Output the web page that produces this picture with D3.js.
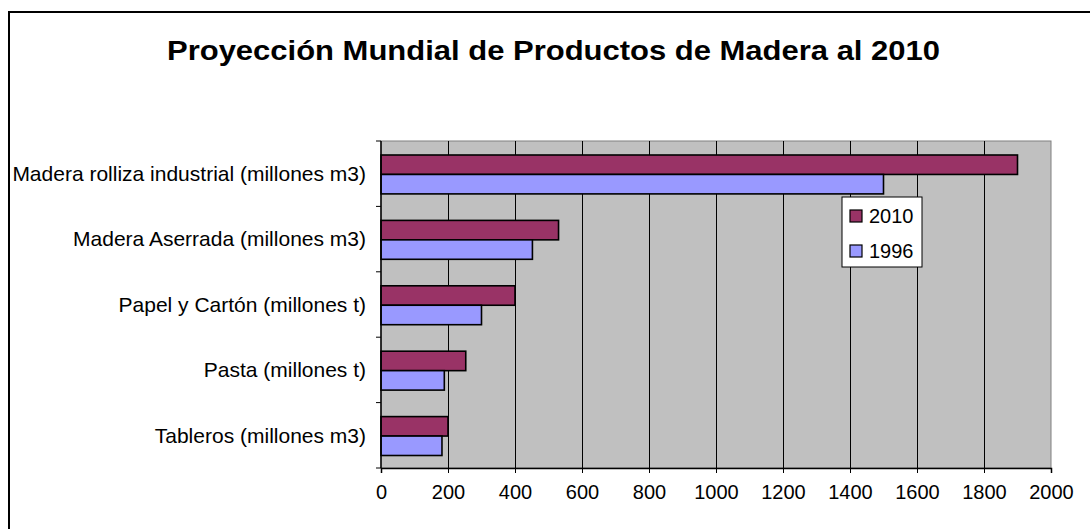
<!DOCTYPE html>
<html>
<head>
<meta charset="utf-8">
<script src="https://cdn.jsdelivr.net/npm/d3@7"></script>
<style>
  body { margin: 0; background: #fff; }
  svg { display: block; font-family: "Liberation Sans", Arial, sans-serif; }
</style>
</head>
<body>
<div id="chart"></div>
<script>
(function () {
    'use strict';

    var categories = [
        'Madera rolliza industrial (millones m3)',
        'Madera Aserrada (millones m3)',
        'Papel y Cartón (millones t)',
        'Pasta (millones t)',
        'Tableros (millones m3)'
    ];
    var seriesNames = ['2010', '1996'];
    var values2010 = [1900, 530, 400, 253, 200];
    var values1996 = [1500, 452, 300, 189, 182];
    var xTicks = [0, 200, 400, 600, 800, 1000, 1200, 1400, 1600, 1800, 2000];
    var title = 'Proyección Mundial de Productos de Madera al 2010';

    var colorMap = { '2010': '#993366', '1996': '#9999FF' };
    var width = 1090, height = 529;
    var plot = { left: 381, right: 1051, top: 141, bottom: 468 };

    var svg = d3.select('#chart').append('svg')
        .attr('width', width)
        .attr('height', height);

    // outer chart frame (runs off the right/bottom of the picture)
    svg.append('rect')
        .attr('x', 9).attr('y', 12)
        .attr('width', 1200).attr('height', 600)
        .attr('fill', 'none')
        .attr('stroke', '#000')
        .attr('stroke-width', 2);

    svg.append('text')
        .attr('x', 167).attr('y', 60)
        .attr('font-size', 27)
        .attr('font-weight', 'bold')
        .attr('textLength', 773)
        .attr('lengthAdjust', 'spacingAndGlyphs')
        .text(title);

    var x = d3.scaleLinear().domain([0, 2000]).range([plot.left, plot.right]);
    var y = d3.scaleBand().domain(categories).range([plot.top, plot.bottom]);
    var sub = d3.scaleBand().domain(seriesNames).range([14, y.bandwidth() - 12.5]);

    // plot background
    svg.append('rect')
        .attr('x', plot.left).attr('y', plot.top)
        .attr('width', plot.right - plot.left)
        .attr('height', plot.bottom - plot.top)
        .attr('fill', '#C0C0C0')
        .attr('stroke', '#808080')
        .attr('stroke-width', 1);

    // vertical gridlines
    svg.selectAll('.grid')
        .data(xTicks.slice(1, -1))
        .enter()
        .append('line')
        .attr('class', 'grid')
        .attr('x1', function (d) { return Math.round(x(d)) + 0.5; })
        .attr('x2', function (d) { return Math.round(x(d)) + 0.5; })
        .attr('y1', plot.top)
        .attr('y2', plot.bottom)
        .attr('stroke', '#000')
        .attr('stroke-width', 1);

    var rows = categories.map(function (c, i) {
        return { cat: c, vals: [
            { key: '2010', v: values2010[i] },
            { key: '1996', v: values1996[i] }
        ] };
    });

    var group = svg.selectAll('.row')
        .data(rows)
        .enter()
        .append('g')
        .attr('class', 'row')
        .attr('transform', function (d) { return 'translate(0,' + y(d.cat) + ')'; });

    group.selectAll('rect')
        .data(function (d) { return d.vals; })
        .enter()
        .append('rect')
        .attr('x', x(0))
        .attr('y', function (d) { return sub(d.key); })
        .attr('width', function (d) { return x(d.v) - x(0); })
        .attr('height', sub.bandwidth())
        .attr('fill', function (d) { return colorMap[d.key]; })
        .attr('stroke', '#000')
        .attr('stroke-width', 1.6);

    // category axis
    var yAxis = svg.append('g')
        .attr('transform', 'translate(' + plot.left + ',0)');
    yAxis.append('line')
        .attr('x1', 0).attr('x2', 0)
        .attr('y1', plot.top).attr('y2', plot.bottom)
        .attr('stroke', '#000').attr('stroke-width', 1.5);
    yAxis.selectAll('.ytick')
        .data(d3.range(categories.length + 1))
        .enter()
        .append('line')
        .attr('x1', -5).attr('x2', 0)
        .attr('y1', function (i) { return plot.top + i * y.step(); })
        .attr('y2', function (i) { return plot.top + i * y.step(); })
        .attr('stroke', '#000');
    yAxis.selectAll('.ylabel')
        .data(categories)
        .enter()
        .append('text')
        .attr('x', -15)
        .attr('y', function (d) { return y(d) + y.bandwidth() / 2; })
        .attr('dy', '0.35em')
        .attr('text-anchor', 'end')
        .attr('font-size', 21)
        .text(function (d) { return d; });

    // value axis
    var xAxis = d3.axisBottom(x).tickValues(xTicks).tickSize(5).tickPadding(12).tickFormat(d3.format('d'));
    var xg = svg.append('g')
        .attr('transform', 'translate(0,' + plot.bottom + ')')
        .call(xAxis);
    xg.select('.domain').attr('stroke', '#000').attr('stroke-width', 1.5);
    xg.selectAll('.tick line').attr('stroke', '#000');
    xg.selectAll('.tick text')
        .attr('font-size', 20)
        .attr('font-family', '"Liberation Sans", Arial, sans-serif')
        .attr('fill', '#000');

    // legend
    var legend = svg.append('g').attr('transform', 'translate(842,197)');
    legend.append('rect')
        .attr('width', 80).attr('height', 70)
        .attr('fill', '#fff')
        .attr('stroke', '#000')
        .attr('stroke-width', 1);
    var item = legend.selectAll('.item')
        .data(seriesNames)
        .enter()
        .append('g')
        .attr('class', 'item')
        .attr('transform', function (d, i) { return 'translate(0,' + (19 + i * 35) + ')'; });
    item.append('rect')
        .attr('x', 8).attr('y', -6)
        .attr('width', 12).attr('height', 12)
        .attr('fill', function (d) { return colorMap[d]; })
        .attr('stroke', '#000')
        .attr('stroke-width', 1.2);
    item.append('text')
        .attr('x', 27).attr('y', 0)
        .attr('dy', '0.36em')
        .attr('font-size', 20)
        .text(function (d) { return d; });
}());
</script>
</body>
</html>
